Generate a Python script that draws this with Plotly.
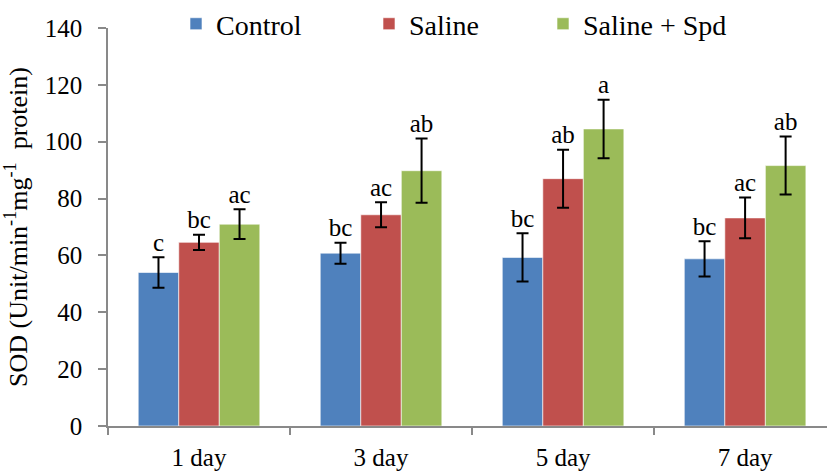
import plotly.graph_objects as go

days = ["1 day", "3 day", "5 day", "7 day"]
series_names = ["Control", "Saline", "Saline + Spd"]
control = [54.0, 60.8, 59.3, 58.8]
control_err = [5.4, 3.7, 8.5, 6.2]
saline = [64.6, 74.3, 87.0, 73.2]
saline_err = [2.7, 4.4, 10.2, 7.2]
spd = [71.0, 89.8, 104.5, 91.6]
spd_err = [5.2, 11.3, 10.3, 10.2]
control_letters = ["c", "bc", "bc", "bc"]
saline_letters = ["bc", "ac", "ab", "ac"]
spd_letters = ["ac", "ab", "a", "ab"]
y_ticks = [0, 20, 40, 60, 80, 100, 120, 140]

colors = ["#4F81BD", "#C0504D", "#9BBB59"]
FONT = "Liberation Serif"
values = [control, saline, spd]
errors = [control_err, saline_err, spd_err]
letters = [control_letters, saline_letters, spd_letters]
legend_ids = ["legend", "legend2", "legend3"]

W, H = 827, 471
ML, MR, MT, MB = 108, 0, 28, 45
BARGAP = 0.332

fig = go.Figure()
for i, name in enumerate(series_names):
    fig.add_trace(go.Bar(
        x=days, y=values[i], name=name, offsetgroup=str(i),
        marker=dict(color=colors[i], line=dict(color="rgba(255,255,255,0.6)", width=1)),
        error_y=dict(type="data", array=errors[i], visible=True,
                     color="black", thickness=2, width=6),
        legend=legend_ids[i],
    ))
for i, name in enumerate(series_names):
    fig.add_trace(go.Scatter(
        x=days, y=[v + e for v, e in zip(values[i], errors[i])],
        mode="text", text=letters[i], textposition="top center",
        textfont=dict(family=FONT, size=25, color="black"),
        offsetgroup=str(i), showlegend=False, hoverinfo="skip",
    ))

plot_w = W - ML - MR
legend_px = [190, 383, 557]
legend_common = dict(orientation="h", yanchor="middle", y=1.01, xanchor="left",
                     font=dict(family=FONT, size=28, color="black"),
                     bgcolor="rgba(0,0,0,0)", borderwidth=0, itemwidth=30)
layout_legends = {}
for lid, px in zip(legend_ids, legend_px):
    layout_legends[lid] = dict(legend_common, x=(px - ML - 14) / plot_w)

fig.update_layout(
    width=W, height=H,
    margin=dict(l=ML, r=MR, t=MT, b=MB, pad=0, autoexpand=False),
    paper_bgcolor="white", plot_bgcolor="white",
    barmode="group", bargap=BARGAP, bargroupgap=0,
    scattermode="group", scattergap=BARGAP,
    font=dict(family=FONT, color="black"),
    showlegend=True,
    **layout_legends,
)
fig.update_xaxes(
    range=[-0.5, 3.45], showline=True, linecolor="#898989", linewidth=1.5,
    ticks="outside", tickson="boundaries", ticklen=7, tickcolor="#898989", tickwidth=1.5,
    tickfont=dict(family=FONT, size=25, color="black"), showgrid=False,
    ticklabelstandoff=8, automargin=False,
)
fig.update_yaxes(
    range=[0, 140], tickvals=y_ticks, showline=True, linecolor="#898989", linewidth=1.5,
    ticks="outside", ticklen=8, tickcolor="#898989", tickwidth=1.5,
    tickfont=dict(family=FONT, size=25, color="black"), showgrid=False, zeroline=False,
    ticklabelstandoff=11, automargin=False,
    title=dict(text="SOD (Unit/min<sup>-1</sup>mg<sup>-1</sup>  protein)",
               font=dict(family=FONT, size=26, color="black"), standoff=10),
)
fig.write_html("out.html", config={"displayModeBar": False},
               post_script="document.body.style.margin='0';document.body.style.overflow='hidden';")
